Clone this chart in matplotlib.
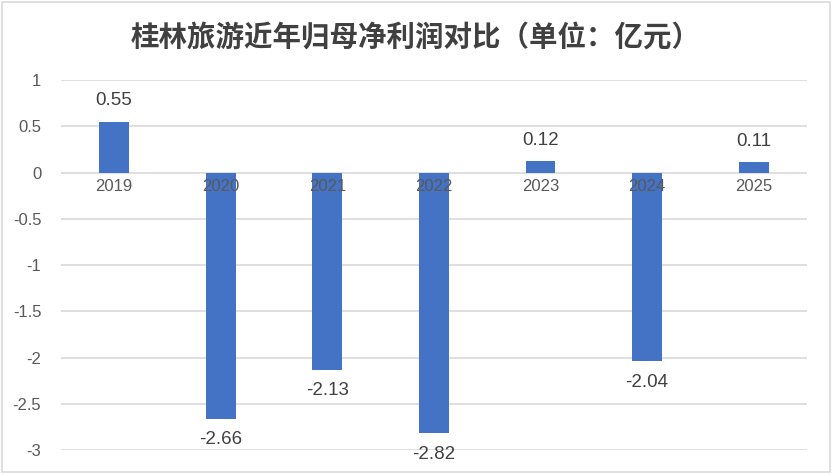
import matplotlib
matplotlib.use("Agg")
import matplotlib.pyplot as plt
from matplotlib.patches import Rectangle

years = ["2019", "2020", "2021", "2022", "2023", "2024", "2025"]
profits = [0.55, -2.66, -2.13, -2.82, 0.12, -2.04, 0.11]
yticks = [1, 0.5, 0, -0.5, -1, -1.5, -2, -2.5, -3]
ytick_labels = ["1", "0.5", "0", "-0.5", "-1", "-1.5", "-2", "-2.5", "-3"]
title = "桂林旅游近年归母净利润对比（单位：亿元）"

num_font = ["Liberation Sans Narrow", "Liberation Sans", "DejaVu Sans"]
cjk_font = ["Noto Sans CJK SC", "DejaVu Sans"]
gray = "#595959"
grid = "#d9d9d9"
blue = "#4472C4"

fig = plt.figure(figsize=(8.32, 4.74), dpi=100)
fig.patches.append(Rectangle((0.003, 0.004), 0.994, 0.992, transform=fig.transFigure,
                             fill=False, edgecolor=grid, linewidth=1.2))
ax = fig.add_axes([0.073, 0.0506, 0.897, 0.7806])

x = list(range(len(years)))
ax.bar(x, profits, width=0.28, color=blue, zorder=2)
ax.set_xlim(-0.5, len(years) - 0.5)
ax.set_ylim(-3, 1)
ax.set_yticks(yticks)
ax.set_yticklabels(ytick_labels, family=num_font, fontsize=12, color=gray)
ax.tick_params(axis="y", length=0, pad=14)
ax.set_xticks([])
for s in ax.spines.values():
    s.set_visible(False)
for t in yticks:
    ax.axhline(t, color=grid, linewidth=1.2, zorder=1)

for xi, yr in zip(x, years):
    ax.annotate(yr, (xi, 0), xytext=(0, -5), textcoords="offset points",
                ha="center", va="top", family=num_font, fontsize=12, color=gray, zorder=3)

for xi, v in zip(x, profits):
    off = 15 if v >= 0 else -15
    ax.annotate(f"{v:.2f}", (xi, v), xytext=(0, off), textcoords="offset points",
                ha="center", va="center", family=num_font, fontsize=13.5, color="#404040", zorder=3)

fig.text(0.5, 0.918, title, ha="center", va="center", family=cjk_font,
         fontsize=20.5, fontweight="bold", color="#404040")

fig.savefig("out.png", dpi=100)
